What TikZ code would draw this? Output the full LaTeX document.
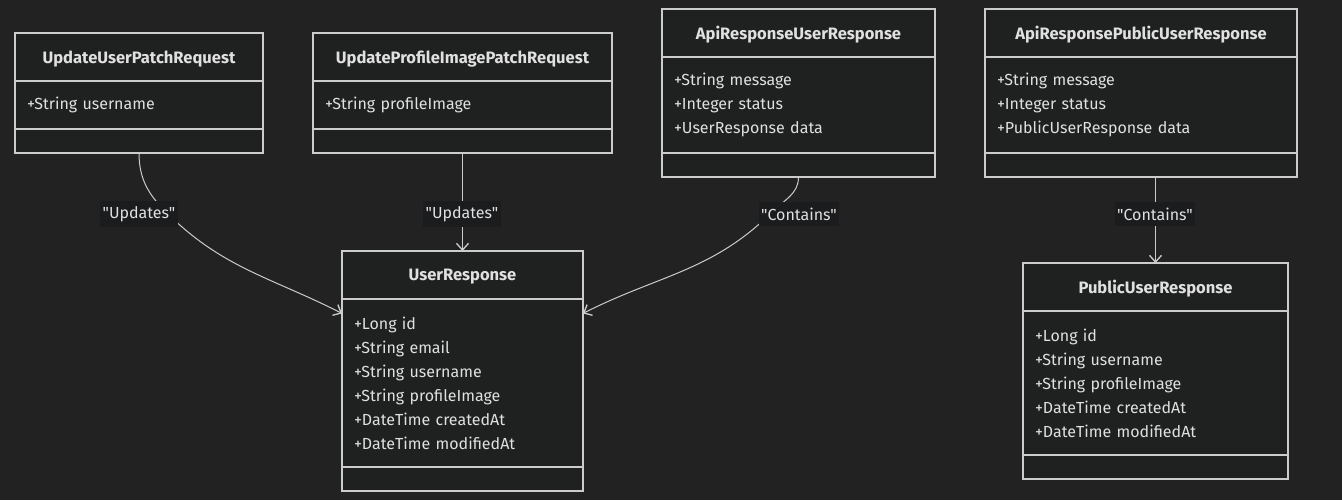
\documentclass[tikz,border=0pt]{standalone}
\usepackage{fontspec}
\setmainfont{Fira Sans}[Ligatures=TeXOff]
\usetikzlibrary{arrows.meta,positioning,calc}
\definecolor{bgdark}{HTML}{222222}
\definecolor{boxfill}{HTML}{1F2020}
\definecolor{linegray}{HTML}{CCCCCC}
\definecolor{txtgray}{HTML}{E0E0E0}
\definecolor{lblfill}{HTML}{1A1C1E}
\tikzstyle{conn}=[draw=linegray,line width=0.75pt]
\tikzstyle{post}=[conn,-{Straight Barb[length=5pt,width=9pt,line width=1pt]}]
\tikzstyle{classhead}=[draw=linegray,fill=boxfill,line width=1pt,outer sep=0pt,inner sep=0pt,minimum height=36pt,text depth=0pt,text=txtgray,font=\fontsize{12.4}{14}\selectfont\bfseries]
\tikzstyle{classbody}=[draw=linegray,fill=boxfill,line width=1pt,outer sep=0pt,inner xsep=9pt,inner ysep=0pt,align=left,text=txtgray,font=\fontsize{12}{18}\selectfont]
\tikzstyle{classfoot}=[draw=linegray,fill=boxfill,line width=1pt,outer sep=0pt,minimum height=18pt]
\tikzstyle{rel}=[fill=lblfill,text=txtgray,inner xsep=2pt,inner ysep=4pt,font=\fontsize{12}{14}\selectfont]

\begin{document}
\begin{tikzpicture}[x=0.75pt,y=-0.75pt]
    \useasboundingbox[fill=bgdark] (0,0) rectangle (1342,500);

    % update requests
    \node[classhead,minimum width=186pt](upr) at (139,57) {UpdateUserPatchRequest};
    \node[classbody,text width=168pt,minimum height=36pt](uprBody) [below=0pt of upr] {+String username};
    \node[classfoot,minimum width=186pt](uprFoot) [below=0pt of uprBody] {};

    \node[classhead,minimum width=224.25pt](upi) at (462.5,57) {UpdateProfileImagePatchRequest};
    \node[classbody,text width=206.25pt,minimum height=36pt](upiBody) [below=0pt of upi] {+String profileImage};
    \node[classfoot,minimum width=224.25pt](upiFoot) [below=0pt of upiBody] {};

    % api wrappers
    \node[classhead,minimum width=204.75pt](aur) at (798.5,33) {ApiResponseUserResponse};
    \node[classbody,text width=186.75pt,minimum height=72pt](aurBody) [below=0pt of aur]
        {+String message\\+Integer status\\+UserResponse data};
    \node[classfoot,minimum width=204.75pt](aurFoot) [below=0pt of aurBody] {};

    \node[classhead,minimum width=234pt](apu) at (1141,33) {ApiResponsePublicUserResponse};
    \node[classbody,text width=216pt,minimum height=72pt](apuBody) [below=0pt of apu]
        {+String message\\+Integer status\\+PublicUserResponse data};
    \node[classfoot,minimum width=234pt](apuFoot) [below=0pt of apuBody] {};

    % responses
    \node[classhead,minimum width=180.75pt](ur) at (462.5,275) {UserResponse};
    \node[classbody,text width=162.75pt,minimum height=126pt](urBody) [below=0pt of ur]
        {+Long id\\+String email\\+String username\\+String profileImage\\+DateTime createdAt\\+DateTime modifiedAt};
    \node[classfoot,minimum width=180.75pt](urFoot) [below=0pt of urBody] {};

    \node[classhead,minimum width=198.75pt](pu) at (1155.5,287) {PublicUserResponse};
    \node[classbody,text width=180.75pt,minimum height=108pt](puBody) [below=0pt of pu]
        {+Long id\\+String username\\+String profileImage\\+DateTime createdAt\\+DateTime modifiedAt};
    \node[classfoot,minimum width=198.75pt](puFoot) [below=0pt of puBody] {};

    % relations
    \coordinate (k1) at (166,212);
    \coordinate (k3) at (772,212);
    \draw[post] (uprFoot.south) to[out=-90,in=135] (k1) to[out=-45,in=153] (urBody.150);
    \draw[post] (upiFoot.south) -- (ur.north);
    \draw[post] (aurFoot.south) to[out=-90,in=45] (k3) to[out=-135,in=27] (urBody.30);
    \draw[post] (apuFoot.south -| pu.north) -- (pu.north);

    \node[rel](r1) at (139,214) {"Updates"};
    \node[rel](r2) at (462,214) {"Updates"};
    \node[rel](r3) at (799,214) {"Contains"};
    \node[rel](r4) at (1155,214) {"Contains"};
\end{tikzpicture}
\end{document}
